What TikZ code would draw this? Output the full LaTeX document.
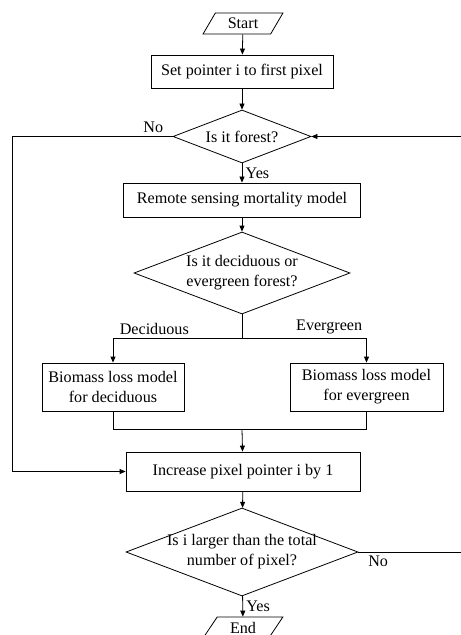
\documentclass[tikz,border=0pt]{standalone}
\usepackage{fontspec}
\setmainfont{Liberation Serif}
\usetikzlibrary{shapes.geometric,arrows.meta}

\begin{document}
\begin{tikzpicture}
    [x=1bp, y=-1bp, line width=0.8bp,
    font=\fontsize{16.2}{20}\selectfont,
    ionode/.style={trapezium, trapezium left angle=58, trapezium right angle=122, trapezium stretches=true, draw=black, minimum width=80bp, minimum height=21bp, inner sep=0pt},
    procbox/.style={rectangle, draw=black, align=center, inner sep=0pt},
    decision/.style={diamond, draw=black, inner sep=0pt},
    arrowline/.style={-{Triangle[length=6bp,width=5bp]}},]

    \useasboundingbox (0,0) rectangle (461,635);

    \node[ionode] (start) at (243,23.5) {Start};
    \node[procbox, minimum width=182bp, minimum height=33bp] (setptr) at (242,71.5) {Set pointer i to first pixel};
    \node[decision, minimum width=138bp, minimum height=53bp, label=center:{Is it forest?}] (forest) at (242,136.5) {};
    \node[procbox, minimum width=237bp, minimum height=34bp] (mortality) at (242,200) {Remote sensing mortality model};
    \node[decision, minimum width=216bp, minimum height=82bp, label={[align=center]center:Is it deciduous or\\evergreen forest?}] (foresttype) at (242,273) {};
    \node[procbox, minimum width=142bp, minimum height=48bp] (deciduous) at (113,387) {Biomass loss model\\for deciduous};
    \node[procbox, minimum width=153bp, minimum height=48bp] (evergreen) at (366.5,387) {Biomass loss model\\for evergreen};
    \node[procbox, minimum width=234bp, minimum height=39bp] (increase) at (243,471.5) {Increase pixel pointer i by 1};
    \node[decision, minimum width=232bp, minimum height=88bp, label={[align=center]center:Is i larger than the total\\number of pixel?}] (total) at (242,552) {};
    \node[ionode] (finish) at (243,627.5) {End};

    \coordinate (branch) at (242,338);
    \coordinate (merge) at (242,429);
    \coordinate (leftx) at (12,0);
    \coordinate (rightx) at (490,0);

    \draw[arrowline] (start) -- (setptr);
    \draw[arrowline] (setptr) -- (forest);
    \draw[arrowline] (forest) -- node[right]{Yes} (mortality);
    \draw[arrowline] (mortality) -- (foresttype);
    \draw (foresttype) -- (branch);
    \draw[arrowline] (branch) -| node[pos=.34, above]{Deciduous} (deciduous);
    \draw[arrowline] (branch) -| node[pos=.35, above]{Evergreen} (evergreen);
    \draw (deciduous) |- (merge);
    \draw (evergreen) |- (merge);
    \draw[arrowline] (merge) -- (increase);
    \draw[arrowline] (increase) -- (total);
    \draw[arrowline] (total) -- node[right]{Yes} (finish);

    % loops back
    \draw[arrowline] (forest.west) -- node[pos=.12, above]{No} (forest.west -| leftx) |- (increase.west);
    \draw[arrowline] (total.east) -- node[pos=.15, below]{No} (total.east -| rightx) |- (forest.east);

\end{tikzpicture}
\end{document}
